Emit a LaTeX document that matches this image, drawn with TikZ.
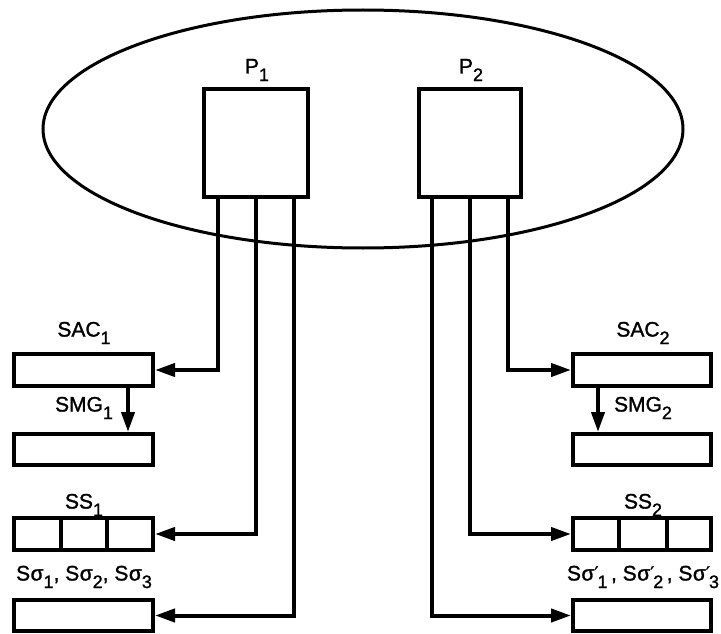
\documentclass[tikz,border=0pt]{standalone}
\usepackage{fontspec}
\setmainfont{Liberation Sans}[BoldFont=Liberation Sans,BoldFeatures={FakeBold=1.3}]
\newfontfamily\dejavu{DejaVu Sans}[BoldFont=DejaVu Sans,BoldFeatures={FakeBold=1.3}]
\usetikzlibrary{arrows.meta,shapes.geometric}
\newcommand\sbs[1]{\raisebox{-0.36em}{\fontsize{18}{18}\selectfont\bfseries #1}}
\newcommand\sbp[1]{\raisebox{0.05em}{\fontsize{18}{18}\selectfont\bfseries\dejavu ′}\kern-1pt\sbs{#1}}
\begin{document}
\begin{tikzpicture}[x=1pt,y=-1pt,
  box/.style={draw,line width=4pt,inner sep=0pt,fill=white},
  lbl/.style={inner sep=0pt,font=\fontsize{21}{21}\selectfont\bfseries},
  arr/.style={line width=4pt,-{Triangle[length=20pt,width=13pt]}},
  wire/.style={line width=4pt}]
\useasboundingbox (0,0) rectangle (721,634);
\node[draw,ellipse,line width=3pt,inner sep=0pt,minimum width=640,minimum height=238] (sys) at (363,129) {};
\node[box,minimum width=104,minimum height=108] (P1) at (256,143) {};
\node[box,minimum width=102,minimum height=108] (P2) at (470,143) {};
\node[lbl] (lP1) at (257,70) {P\sbs{1}};
\node[lbl] (lP2) at (471,70) {P\sbs{2}};
% left boxes
\node[box,minimum width=139,minimum height=32] (SAC1) at (83.5,370) {};
\node[box,minimum width=139,minimum height=31] (SMG1) at (83.5,449.5) {};
\node[box,minimum width=139,minimum height=32] (SS1) at (83.5,534) {};
\node[box,minimum width=139,minimum height=31] (B1) at (83.5,615.5) {};
\draw[wire] ([xshift=-22.5pt]SS1.north) -- ([xshift=-22.5pt]SS1.south);
\draw[wire] ([xshift=23.5pt]SS1.north) -- ([xshift=23.5pt]SS1.south);
% right boxes
\node[box,minimum width=138,minimum height=32] (SAC2) at (642,370) {};
\node[box,minimum width=138,minimum height=31] (SMG2) at (642,449.5) {};
\node[box,minimum width=138,minimum height=32] (SS2) at (642,534) {};
\node[box,minimum width=138,minimum height=31] (B2) at (642,615.5) {};
\draw[wire] ([xshift=-23pt]SS2.north) -- ([xshift=-23pt]SS2.south);
\draw[wire] ([xshift=25pt]SS2.north) -- ([xshift=25pt]SS2.south);
% labels
\node[lbl] (lSAC1) at (84,333) {SAC\sbs{1}};
\node[lbl] (lSMG1) at (84,408) {SMG\sbs{1}};
\node[lbl] (lSS1) at (84,505) {SS\sbs{1}};
\node[lbl] (lS1) at (84,577) {S\kern0.5ptσ\sbs{1}, S\kern0.5ptσ\sbs{2}, S\kern0.5ptσ\sbs{3}};
\node[lbl] (lSAC2) at (643,333) {SAC\sbs{2}};
\node[lbl] (lSMG2) at (643,408) {SMG\sbs{2}};
\node[lbl] (lSS2) at (643,505) {SS\sbs{2}};
\node[lbl] (lS2) at (643,577) {S\kern0.5ptσ\sbp{1}\,, S\kern0.5ptσ\sbp{2}\,, S\kern0.5ptσ\sbp{3}};
% connectors
\draw[arr] ([xshift=-38pt]P1.south) |- (SAC1.east);
\draw[arr] (P1.south) |- (SS1.east);
\draw[arr] ([xshift=38pt]P1.south) |- (B1.east);
\draw[arr] ([xshift=38pt]P2.south) |- (SAC2.west);
\draw[arr] (P2.south) |- (SS2.west);
\draw[arr] ([xshift=-38pt]P2.south) |- (B2.west);
\draw[arr] ([xshift=44.5pt]SAC1.south) -- ([xshift=44.5pt]SMG1.north);
\draw[arr] ([xshift=-44pt]SAC2.south) -- ([xshift=-44pt]SMG2.north);
\end{tikzpicture}
\end{document}
